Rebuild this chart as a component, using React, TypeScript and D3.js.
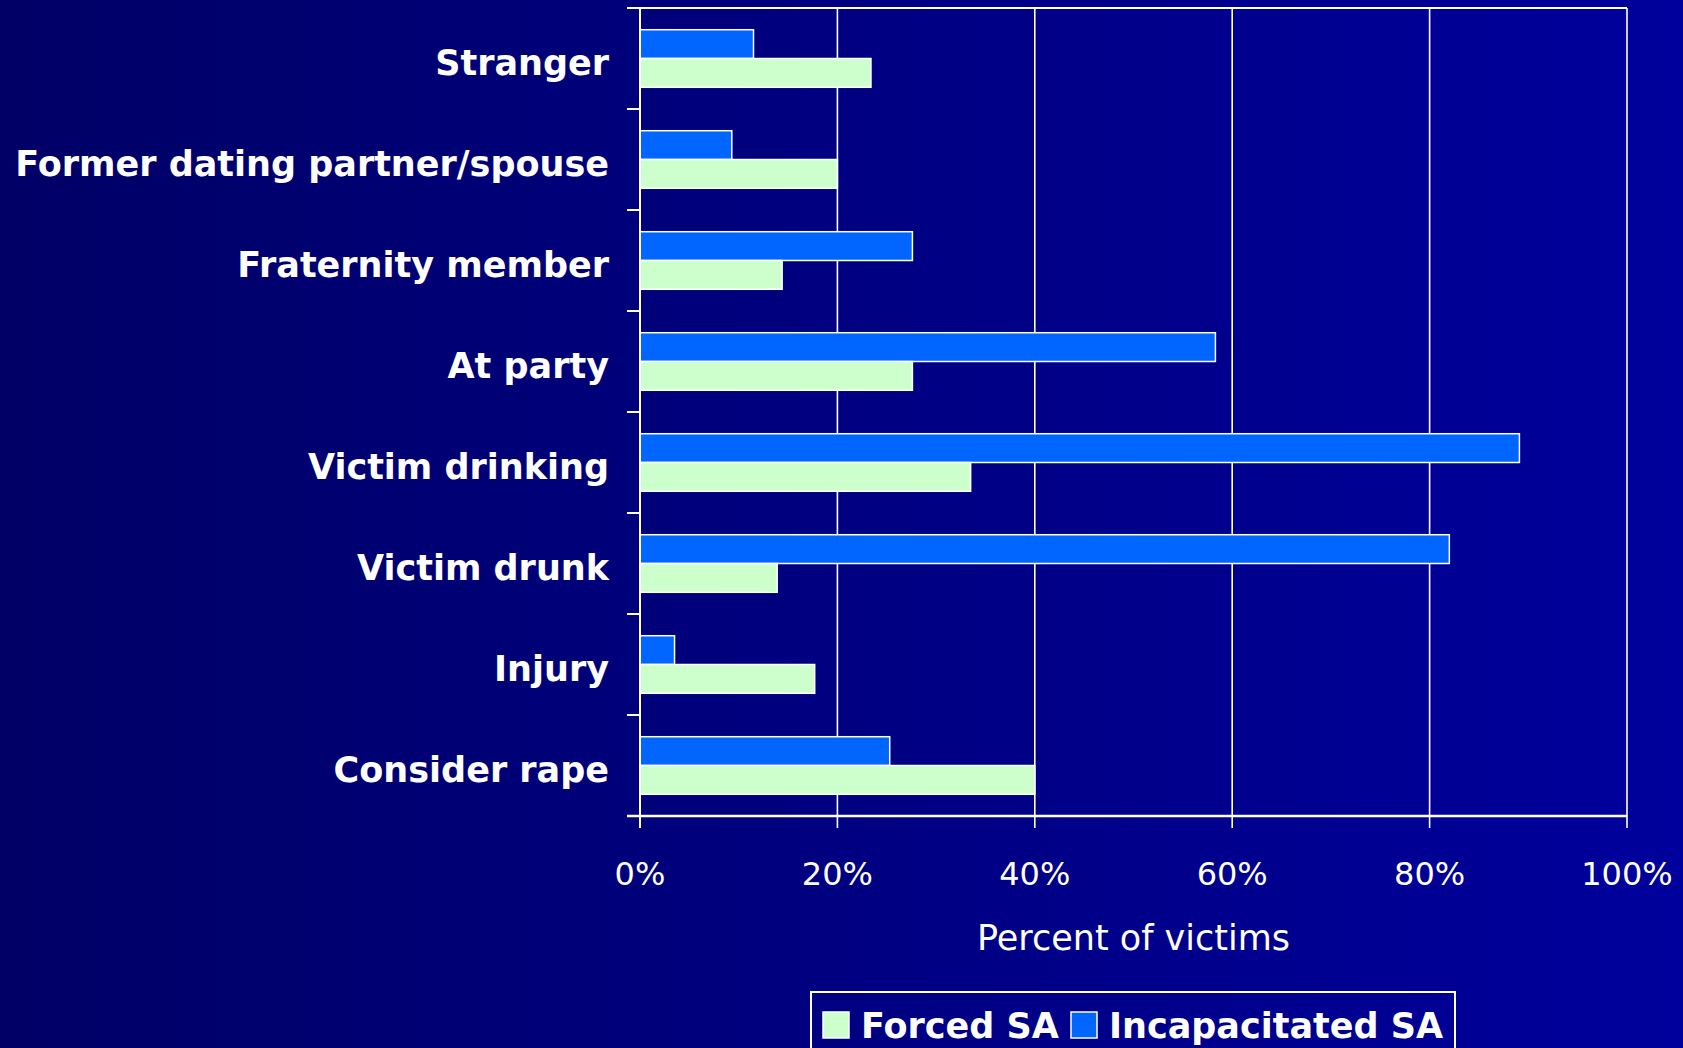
import React from "react";
import * as d3 from "d3";

const categories = [
  "Stranger",
  "Former dating partner/spouse",
  "Fraternity member",
  "At party",
  "Victim drinking",
  "Victim drunk",
  "Injury",
  "Consider rape",
];
const forcedSA = [23.4, 20.0, 14.4, 27.6, 33.5, 13.9, 17.7, 40.0];
const incapacitatedSA = [11.5, 9.3, 27.6, 58.3, 89.1, 82.0, 3.5, 25.3];
const xTicks = [0, 20, 40, 60, 80, 100];
const seriesKeys = ["Incapacitated SA", "Forced SA"];
const legendOrder = ["Forced SA", "Incapacitated SA"];
const seriesColors: Record<string, string> = {
  "Forced SA": "#CCFFCC",
  "Incapacitated SA": "#0066FF",
};

const W = 1683;
const H = 1048;
const FONT = "'DejaVu Sans', Verdana, sans-serif";

export default function App() {
  const x = d3.scaleLinear().domain([0, 100]).range([640, 1627]);
  const y = d3.scaleBand<string>().domain(categories).range([8, 816]).padding(0);
  const bw = y.bandwidth();
  const sub = d3
    .scaleBand<string>()
    .domain(seriesKeys)
    .range([bw * 0.215, bw * 0.785])
    .padding(0);
  const valuesFor = (k: string) => (k === "Forced SA" ? forcedSA : incapacitatedSA);
  const x0 = x(0);
  const top = y.range()[0];
  const bottom = y.range()[1];
  const tickBoundaries = d3.range(categories.length + 1).map((i) => top + i * bw);

  return (
    <svg
      width={W}
      height={H}
      style={{ position: "fixed", left: 0, top: 0, display: "block" }}
      fontFamily={FONT}
    >
      <defs>
        <linearGradient id="bg" x1="0" y1="0" x2="1" y2="0">
          <stop offset="0" stopColor="#000066" />
          <stop offset="1" stopColor="#00009C" />
        </linearGradient>
      </defs>
      <rect x={0} y={0} width={W} height={H} fill="url(#bg)" />

      {/* gridlines */}
      {xTicks.map((t) => (
        <line
          key={"g" + t}
          x1={x(t)}
          x2={x(t)}
          y1={top}
          y2={bottom + (t === 0 ? 0 : 12)}
          stroke="#ffffff"
          strokeWidth={1.6}
        />
      ))}
      {/* top border */}
      <line x1={x0 - 13} x2={x(100)} y1={top} y2={top} stroke="#ffffff" strokeWidth={2} />

      {/* bars */}
      {categories.map((c, i) => (
        <g key={c} transform={`translate(0,${y(c)})`}>
          {seriesKeys.map((k) => (
            <rect
              key={k}
              x={x0}
              y={sub(k)}
              width={x(valuesFor(k)[i]) - x0}
              height={sub.bandwidth()}
              fill={seriesColors[k]}
              stroke="#ffffff"
              strokeWidth={1.5}
            />
          ))}
        </g>
      ))}

      {/* y axis */}
      <line x1={x0} x2={x0} y1={top} y2={bottom + 12} stroke="#ffffff" strokeWidth={2} />
      {tickBoundaries.map((ty, i) => (
        <line key={"yt" + i} x1={x0 - 13} x2={x0} y1={ty} y2={ty} stroke="#ffffff" strokeWidth={2} />
      ))}
      {categories.map((c) => (
        <text
          key={"l" + c}
          x={609}
          y={(y(c) as number) + bw / 2 + 16}
          textAnchor="end"
          fill="#ffffff"
          fontWeight="bold"
          fontSize={35}
        >
          {c}
        </text>
      ))}

      {/* x axis */}
      <line x1={x0 - 13} x2={x(100)} y1={bottom} y2={bottom} stroke="#ffffff" strokeWidth={2.5} />
      {xTicks.map((t) => (
        <text key={"xt" + t} x={x(t)} y={885} textAnchor="middle" fill="#ffffff" fontSize={32}>
          {t}%
        </text>
      ))}
      <text x={(x(0) + x(100)) / 2} y={950} textAnchor="middle" fill="#ffffff" fontSize={35}>
        Percent of victims
      </text>

      {/* legend */}
      <rect x={811} y={992} width={644} height={80} fill="none" stroke="#ffffff" strokeWidth={2} />
      {legendOrder.map((k, i) => {
        const sx = i === 0 ? 823 : 1071;
        return (
          <g key={"lg" + k}>
            <rect x={sx} y={1012} width={26} height={26} fill={seriesColors[k]} stroke="#ffffff" strokeWidth={1.5} />
            <text x={sx + 38} y={1038} fill="#ffffff" fontWeight="bold" fontSize={35}>
              {k}
            </text>
          </g>
        );
      })}
    </svg>
  );
}
